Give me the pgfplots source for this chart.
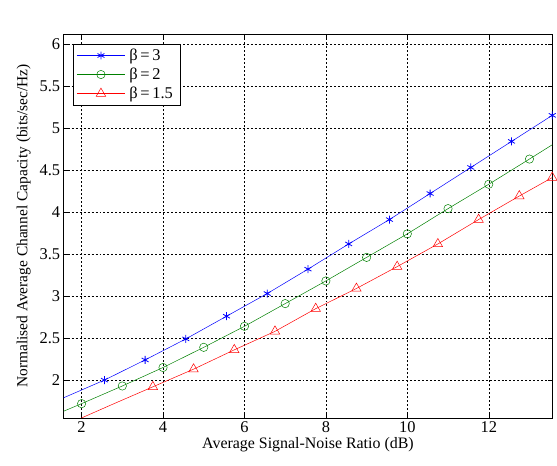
\documentclass[border=0pt]{standalone}
\usepackage{fontspec}
\setmainfont{Liberation Serif}
\usepackage{pgfplots}
\pgfplotsset{compat=1.18}
\usetikzlibrary{calc}

\definecolor{mblue}{RGB}{0,0,255}
\definecolor{mgreen}{RGB}{0,128,0}
\definecolor{mred}{RGB}{255,0,0}

\begin{document}
\begin{tikzpicture}
\begin{axis}[
  scale only axis,
  width=491pt, height=386pt,
  xmin=1.56, xmax=13.56,
  ymin=1.55, ymax=6.12,
  xtick={2,4,...,12},
  ytick={2,2.5,...,6},
  yticklabels={2,2.5,3,3.5,4,4.5,5,5.5,6},
  xlabel={Average Signal-Noise Ratio (dB)},
  ylabel={Normalised Average Channel Capacity (bits/sec/Hz)},
  tick align=inside,
  major tick length=4pt,
  tick style={black, line width=0.5pt},
  axis line style={black, line width=0.6pt},
  grid=major,
  grid style={black, line width=0.5pt, dash pattern=on 2pt off 2pt},
  /pgf/number format/assume math mode=true,
  tick label style={font=\fontsize{16.5}{18}\selectfont},
  xlabel style={font=\fontsize{16}{18}\selectfont, yshift=2pt},
  ylabel style={font=\fontsize{15.5}{17}\selectfont, yshift=2pt},
  legend cell align=left,
  legend style={at={(0.02,0.974)}, anchor=north west, draw=black,
    font=\fontsize{16.5}{18}\selectfont, row sep=2pt, inner xsep=3pt, inner ysep=3pt,
    nodes={inner xsep=4pt}},
  legend image code/.code={%
    \draw[mark=none] (0cm,0cm) -- (1.7cm,0cm);
    \draw[mark indices={2}] plot coordinates {(0.8cm,0cm) (0.85cm,0cm) (0.9cm,0cm)};},
]

\addplot[mblue, line width=0.5pt, mark=asterisk, mark size=4pt, mark indices={2,...,13},
  mark options={line width=0.8pt}]
  coordinates {(1.56,1.79) (2.56,2.00) (3.56,2.24) (4.56,2.49) (5.56,2.76) (6.56,3.03)
    (7.56,3.32) (8.56,3.62) (9.56,3.91) (10.56,4.22) (11.56,4.53) (12.56,4.84) (13.56,5.15)};

\addplot[mgreen, line width=0.5pt, mark=o, mark size=4.2pt, mark indices={2,...,13}]
  coordinates {(1.56,1.63) (2,1.72) (3,1.93) (4,2.15) (5,2.39) (6,2.64) (7,2.91)
    (8,3.18) (9,3.46) (10,3.74) (11,4.04) (12,4.33) (13,4.63) (13.56,4.80)};

\addplot[mred, line width=0.5pt, mark=triangle, mark size=5.5pt, mark indices={3,...,13}]
  coordinates {(1.56,1.46) (2,1.55) (2.75,1.71) (3.75,1.92) (4.75,2.13) (5.75,2.36)
    (6.75,2.58) (7.75,2.85) (8.75,3.09) (9.75,3.35) (10.75,3.62) (11.75,3.91)
    (12.75,4.19) (13.56,4.41)};

\legend{β\,=\,3, β\,=\,2, β\,=\,1.5}
\end{axis}
\path ($(current axis.south west)+(-64pt,-48pt)$) rectangle ($(current axis.north east)+(2pt,34pt)$);
\end{tikzpicture}
\end{document}
